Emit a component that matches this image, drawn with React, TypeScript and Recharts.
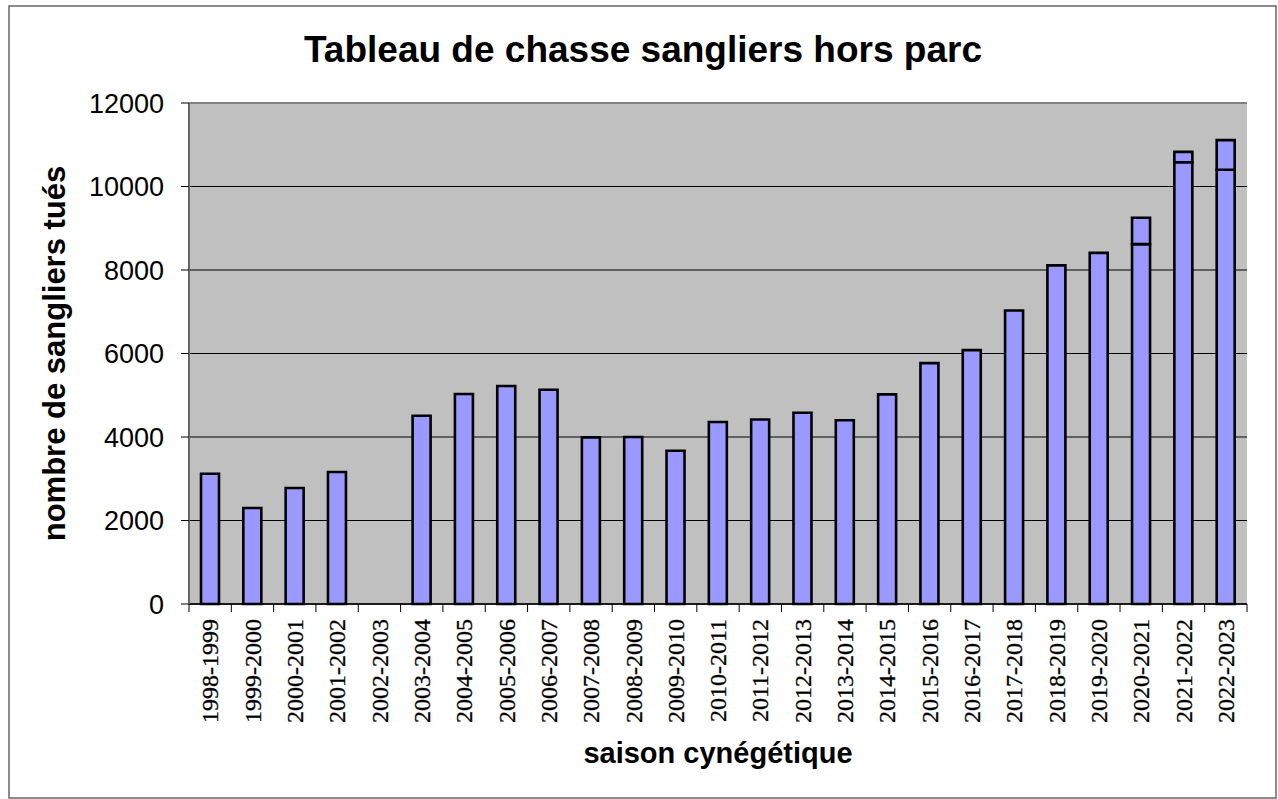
import { Bar, BarChart, CartesianGrid, ReferenceLine, XAxis, YAxis } from "recharts";

const seasons = [
  "1998-1999", "1999-2000", "2000-2001", "2001-2002", "2002-2003", "2003-2004",
  "2004-2005", "2005-2006", "2006-2007", "2007-2008", "2008-2009", "2009-2010",
  "2010-2011", "2011-2012", "2012-2013", "2013-2014", "2014-2015", "2015-2016",
  "2016-2017", "2017-2018", "2018-2019", "2019-2020", "2020-2021", "2021-2022",
  "2022-2023",
];

const killed = [
  3120, 2300, 2780, 3160, null, 4510, 5030, 5220, 5130, 3990, 4000, 3670,
  4360, 4420, 4580, 4400, 5020, 5770, 6080, 7030, 8110, 8410, 8620, 10580,
  10400,
];

// top segment on the last three seasons
const killedExtra = [
  null, null, null, null, null, null, null, null, null, null, null, null,
  null, null, null, null, null, null, null, null, null, null, 630, 250, 710,
];

const yTicks = [0, 2000, 4000, 6000, 8000, 10000, 12000];

const data = seasons.map((season, i) => ({
  season,
  killed: killed[i],
  extra: killedExtra[i],
}));

const W = 1278;
const H = 799;
const PLOT_LEFT = 189;
const PLOT_RIGHT = 1247;
const PLOT_TOP = 103;
const PLOT_BOTTOM = 604;
const BAND = (PLOT_RIGHT - PLOT_LEFT) / seasons.length;

const sans = '"Liberation Sans", Arial, sans-serif';
const serif = '"Liberation Serif", "Times New Roman", Times, serif';

function SeasonTick(props: any) {
  const { x, y, payload, index } = props;
  const left = x - BAND / 2;
  const right = x + BAND / 2;
  return (
    <g>
      <line x1={left} y1={y} x2={left} y2={y + 8} stroke="#000" strokeWidth={1} />
      {index === seasons.length - 1 && (
        <line x1={right} y1={y} x2={right} y2={y + 8} stroke="#000" strokeWidth={1} />
      )}
      <text
        x={x}
        y={y + 15}
        transform={`rotate(-90, ${x}, ${y + 15})`}
        textAnchor="end"
        dy="0.34em"
        style={{ fontFamily: serif, fontSize: 24 }}
        stroke="#000"
        strokeWidth={0.3}
        fill="#000"
      >
        {payload.value}
      </text>
    </g>
  );
}

export default function App() {
  return (
    <div style={{ position: "absolute", left: 0, top: 0, width: W, height: H, background: "#fff" }}>
      <BarChart
        width={W}
        height={H}
        data={data}
        margin={{ top: PLOT_TOP, right: W - PLOT_RIGHT, bottom: H - PLOT_BOTTOM - 150, left: PLOT_LEFT - 90 }}
        barSize={18}
      >
        <CartesianGrid fill="#C0C0C0" stroke="#000" vertical={false} strokeOpacity={1} />
        <XAxis
          dataKey="season"
          height={150}
          interval={0}
          tickLine={false}
          tickSize={0}
          tickMargin={0}
          axisLine={{ stroke: "#000", strokeWidth: 1.5 }}
          tick={(p: any) => <SeasonTick {...p} />}
        />
        <YAxis
          width={90}
          domain={[0, 12000]}
          ticks={yTicks}
          interval={0}
          tickSize={8}
          tickMargin={17}
          axisLine={{ stroke: "#666", strokeWidth: 2 }}
          tickLine={{ stroke: "#000" }}
          tick={{ fill: "#000", fontSize: 27, fontFamily: sans }}
        />
        <YAxis
          yAxisId="frame"
          orientation="right"
          width={0}
          domain={[0, 12000]}
          tick={false}
          tickLine={false}
          axisLine={{ stroke: "#808080", strokeWidth: 2 }}
        />
        <ReferenceLine y={12000} stroke="#808080" strokeWidth={2} />
        <Bar
          dataKey="killed"
          stackId="a"
          fill="#9999FF"
          stroke="#000"
          strokeWidth={2.6}
          isAnimationActive={false}
        />
        <Bar
          dataKey="extra"
          stackId="a"
          fill="#9999FF"
          stroke="#000"
          strokeWidth={2.6}
          isAnimationActive={false}
        />
      </BarChart>
      <svg
        width={W}
        height={H}
        style={{ position: "absolute", left: 0, top: 0, pointerEvents: "none" }}
      >
        <rect x={9} y={6} width={1267} height={792} fill="none" stroke="#666" strokeWidth={1.5} />
        <text x={643} y={62} textAnchor="middle" fontFamily={sans} fontWeight="bold" fontSize={37} fill="#000">
          Tableau de chasse sangliers hors parc
        </text>
        <text
          x={(PLOT_LEFT + PLOT_RIGHT) / 2}
          y={763}
          textAnchor="middle"
          fontFamily={sans}
          fontWeight="bold"
          fontSize={29}
          fill="#000"
        >
          saison cynégétique
        </text>
        <text
          x={65}
          y={(PLOT_TOP + PLOT_BOTTOM) / 2}
          transform={`rotate(-90, 65, ${(PLOT_TOP + PLOT_BOTTOM) / 2})`}
          textAnchor="middle"
          fontFamily={sans}
          fontWeight="bold"
          fontSize={31}
          fill="#000"
        >
          nombre de sangliers tués
        </text>
      </svg>
    </div>
  );
}
